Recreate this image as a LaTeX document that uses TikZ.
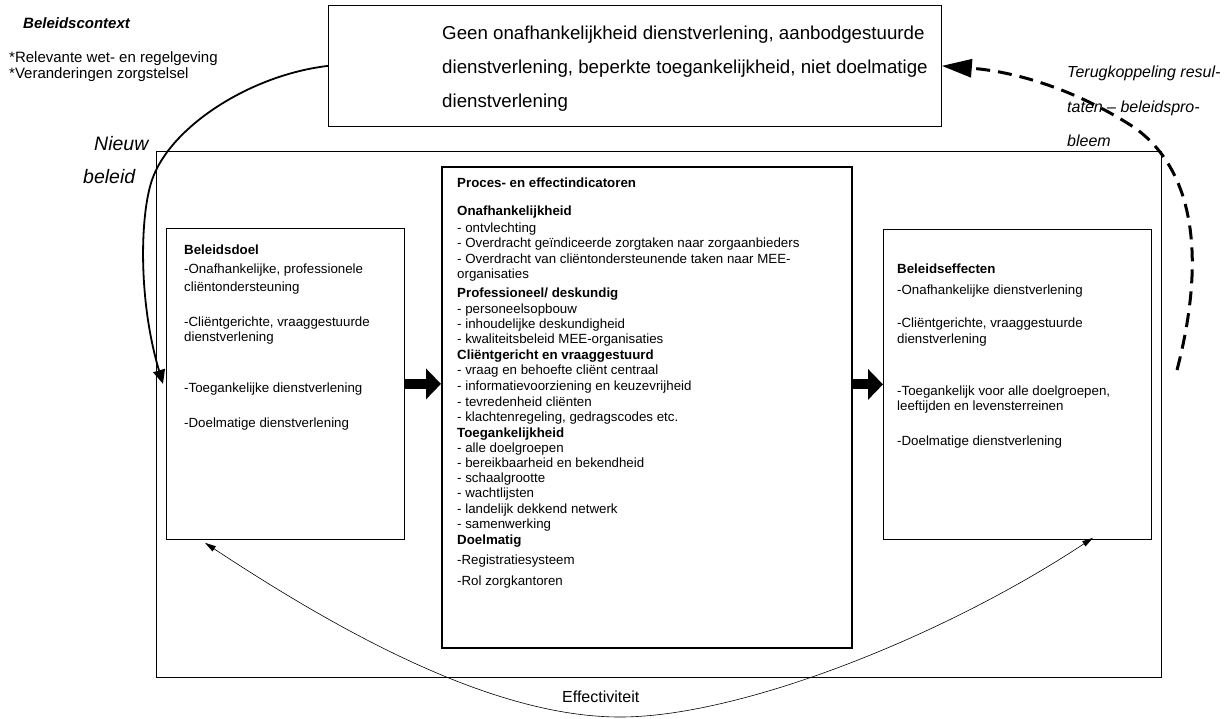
\documentclass[tikz,border=0pt]{standalone}
\usepackage{fontspec}
\setmainfont{Liberation Sans}
\usetikzlibrary{arrows.meta,calc}
\begin{document}
\begin{tikzpicture}[x=1pt,y=-1pt,
  box/.style={draw,line width=0.8pt,anchor=north west,inner sep=0pt},
  txt/.style={anchor=base west,inner sep=0pt,font=\fontsize{13.3}{15}\selectfont},
  bigtxt/.style={anchor=base west,inner sep=0pt,font=\fontsize{18.7}{22}\selectfont},
  ctxtxt/.style={anchor=base west,inner sep=0pt,font=\fontsize{15}{18}\selectfont},
  fbtxt/.style={anchor=base west,inner sep=0pt,font=\fontsize{16}{19}\selectfont\itshape},
  nbtxt/.style={anchor=base west,inner sep=0pt,font=\fontsize{19.5}{23}\selectfont\itshape},
  nbarrow/.style={line width=1.8pt,-{Triangle[length=14pt,width=12pt]}},
  fbarrow/.style={line width=3pt,dash pattern=on 14pt off 8pt,-{Triangle[length=30pt,width=18pt]}},
  blockarrow/.style={line width=10pt,-{Triangle[length=15pt,width=30pt]}},
  effarrow/.style={line width=0.6pt,{Triangle[length=11pt,width=6pt]}-{Triangle[length=11pt,width=6pt]}}
]
\useasboundingbox (0,0) rectangle (1230,718);

% boxes
\node[box, minimum width=1005pt, minimum height=526pt] (outer) at (156,151) {};
\node[box, minimum width=613pt, minimum height=121pt] (prob) at (328,5) {};
\node[box, minimum width=238pt, minimum height=311pt] (goal) at (166,228) {};
\node[box, line width=1.6pt, minimum width=410pt, minimum height=481pt] (ind) at (441,166) {};
\node[box, minimum width=268pt, minimum height=310pt] (eff) at (883,229) {};

% context text
\node[ctxtxt, font=\fontsize{15}{18}\selectfont\bfseries\itshape] (ctx) at (23,28) {Beleidscontext};
\node[ctxtxt] (ctx1) at (9,62) {*Relevante wet- en regelgeving};
\node[ctxtxt] (ctx2) at (9,78) {*Veranderingen zorgstelsel};

% problem box text
\node[bigtxt] (p1) at (442,39) {Geen onafhankelijkheid dienstverlening, aanbodgestuurde};
\node[bigtxt] (p2) at (442,73) {dienstverlening, beperkte toegankelijkheid, niet doelmatige};
\node[bigtxt] (p3) at (442,107) {dienstverlening};

% feedback text
\node[fbtxt] (fb1) at (1067,77) {Terugkoppeling resul-};
\node[fbtxt] (fb2) at (1067,112) {taten – beleidspro-};
\node[fbtxt] (fb3) at (1067,146) {bleem};

% nieuw beleid
\node[nbtxt] (nb1) at (94,150) {Nieuw};
\node[nbtxt] (nb2) at (83,183) {beleid};

% goal box text
\foreach \yy/\lbl [count=\i] in {
  254/{\textbf{Beleidsdoel}},
  273/{-Onafhankelijke, professionele},
  291/{cliëntondersteuning},
  326/{-Cliëntgerichte, vraaggestuurde},
  341/{dienstverlening},
  392/{-Toegankelijke dienstverlening},
  427/{-Doelmatige dienstverlening}}
  \node[txt] (g\i) at (184,\yy) {\lbl};

% indicator box text
\foreach \yy/\lbl [count=\i] in {
  187/{\textbf{Proces- en effectindicatoren}},
  215/{\textbf{Onafhankelijkheid}},
  232/{- ontvlechting},
  247/{- Overdracht geïndiceerde zorgtaken naar zorgaanbieders},
  263/{- Overdracht van cliëntondersteunende taken naar MEE-},
  278/{organisaties},
  297/{\textbf{Professioneel/ deskundig}},
  313/{- personeelsopbouw},
  328/{- inhoudelijke deskundigheid},
  343/{- kwaliteitsbeleid MEE-organisaties},
  359/{\textbf{Cliëntgericht en vraaggestuurd}},
  374/{- vraag en behoefte cliënt centraal},
  390/{- informatievoorziening en keuzevrijheid},
  406/{- tevredenheid cliënten},
  421/{- klachtenregeling, gedragscodes etc.},
  437/{\textbf{Toegankelijkheid}},
  452/{- alle doelgroepen},
  467/{- bereikbaarheid en bekendheid},
  482/{- schaalgrootte},
  497/{- wachtlijsten},
  513/{- landelijk dekkend netwerk},
  528/{- samenwerking},
  544/{\textbf{Doelmatig}},
  564/{-Registratiesysteem},
  585/{-Rol zorgkantoren}}
  \node[txt] (m\i) at (457,\yy) {\lbl};

% effect box text
\foreach \yy/\lbl [count=\i] in {
  273/{\textbf{Beleidseffecten}},
  294/{-Onafhankelijke dienstverlening},
  327/{-Cliëntgerichte, vraaggestuurde},
  343/{dienstverlening},
  395/{-Toegankelijk voor alle doelgroepen,},
  410/{leeftijden en levensterreinen},
  445/{-Doelmatige dienstverlening}}
  \node[txt] (e\i) at (897,\yy) {\lbl};

% effectiviteit label
\node[anchor=base west,inner sep=0pt,font=\fontsize{16}{19}\selectfont] (effl) at (562,702) {Effectiviteit};

% connectors
\draw[blockarrow] (goal.east) -- (goal.east -| ind.west);
\draw[blockarrow] (eff.west -| ind.east) -- (eff.west);

\draw[nbarrow] (prob.west) .. controls (250,75) and (170,127) .. (152,180)
  .. controls (140,215) and (138,300) .. ([xshift=-3pt]goal.west);

\coordinate (fbstart) at (1177,370);
\draw[fbarrow] (fbstart) .. controls (1203,270) and (1200,175) .. (1135,128)
  .. controls (1080,92) and (1020,72) .. (prob.east);

\draw[effarrow] ($(goal.south west)+(39,3)$) .. controls (355,642) and (500,717) .. (620,717)
  .. controls (740,717) and (943,637) .. ($(eff.south west)+(210,-2)$);
\end{tikzpicture}
\end{document}
